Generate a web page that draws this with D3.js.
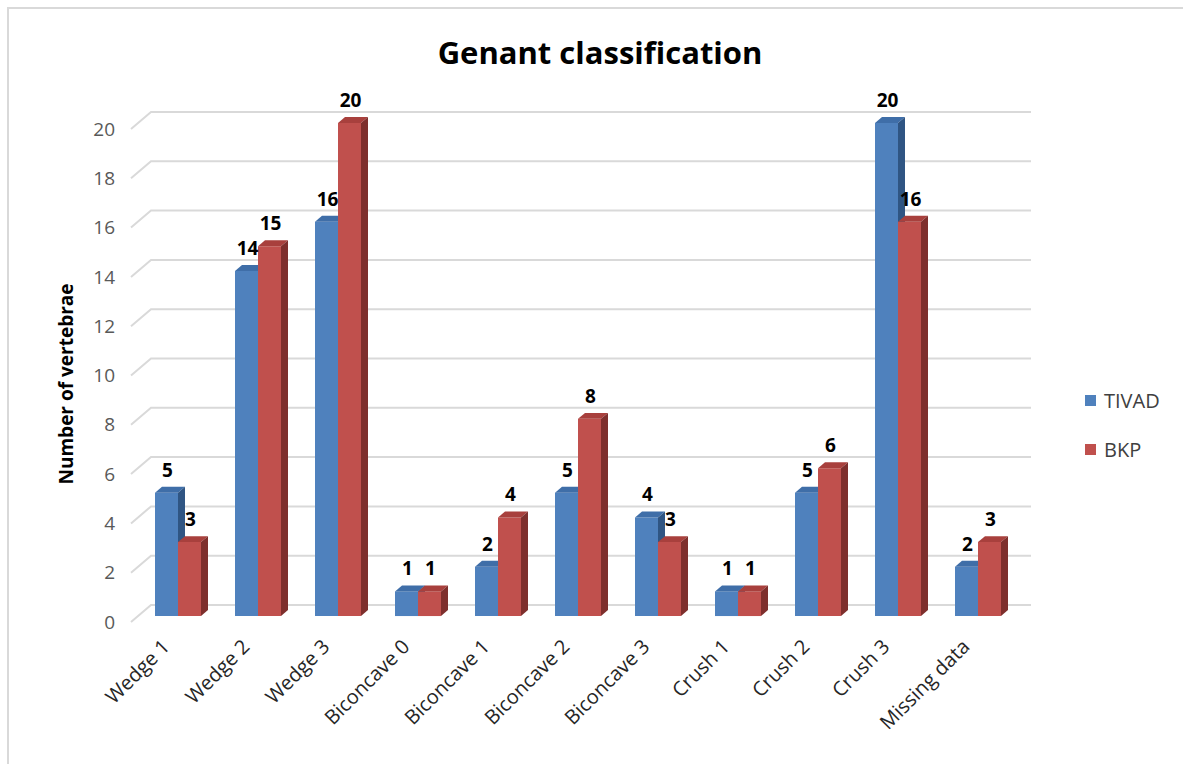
<!DOCTYPE html>
<html>
<head>
<meta charset="utf-8">
<script src="https://cdn.jsdelivr.net/npm/d3@7"></script>
<style>
  body { margin: 0; background: #fff; }
  text { font-family: "Open Sans", sans-serif; }
</style>
</head>
<body>
<script>
// data
var categories = ["Wedge 1", "Wedge 2", "Wedge 3", "Biconcave 0", "Biconcave 1", "Biconcave 2",
                  "Biconcave 3", "Crush 1", "Crush 2", "Crush 3", "Missing data"];
var tivad = [5, 14, 16, 1, 2, 5, 4, 1, 5, 20, 2];
var bkp   = [3, 15, 20, 1, 4, 8, 3, 1, 6, 16, 3];
var seriesNames = ["TIVAD", "BKP"];
var yTicks = [0, 2, 4, 6, 8, 10, 12, 14, 16, 18, 20];

var W = 1183, H = 764;
var svg = d3.select("body").append("svg")
  .attr("width", W).attr("height", H);

// chart border (only top and left are visible)
svg.append("path")
  .attr("d", "M8,764 L8,8 L1183,8")
  .attr("fill", "none")
  .attr("stroke", "#d9d9d9")
  .attr("stroke-width", 2);

// oblique 3d: depth 0 = front plane, depth 1 = back wall
var depthX = 20, depthY = -17;

var x = d3.scaleBand()
  .domain(categories)
  .range([131, 1011]);

var y = d3.scaleLinear()
  .domain([0, 20])
  .range([622, 129]);

function px(xv, d) { return xv + d * depthX; }
function py(v, d) { return y(v) + d * depthY; }

// gridlines: slanted part on the side wall + flat part on the back wall
var grid = svg.append("g");
yTicks.forEach(function(t) {
  grid.append("path")
    .attr("d", "M" + px(131, 0) + "," + py(t, 0) +
               "L" + px(131, 1) + "," + py(t, 1) +
               "L" + px(1011, 1) + "," + py(t, 1))
    .attr("fill", "none")
    .attr("stroke", "#d9d9d9")
    .attr("stroke-width", 2);
});

// y tick labels
svg.append("g").selectAll("text")
  .data(yTicks)
  .enter().append("text")
  .attr("x", 115)
  .attr("y", function(d) { return y(d); })
  .attr("dy", "0.35em")
  .attr("text-anchor", "end")
  .attr("fill", "#595959")
  .style("font-size", "19px")
  .text(function(d) { return d; });

// y axis title
svg.append("text")
  .attr("transform", "translate(73,384) rotate(-90)")
  .attr("text-anchor", "middle")
  .attr("fill", "#000")
  .style("font-size", "19px")
  .style("font-weight", "bold")
  .text("Number of vertebrae");

// bars
var barW = 23;
var d0 = 0.35, d1 = 0.7;
var colors = [
  { front: "#4f81bd", top: "#3f6ea8", side: "#2f5583" },
  { front: "#c0504d", top: "#a8403d", side: "#7e2f2d" }
];

var bars = svg.append("g");
categories.forEach(function(c, i) {
  [tivad[i], bkp[i]].forEach(function(v, s) {
    var x0 = x(c) + x.bandwidth() / 2 - barW + s * barW;
    var x1 = x0 + barW;
    var col = colors[s];
    // front face
    bars.append("path")
      .attr("d", "M" + px(x0, d0) + "," + py(0, d0) +
                 "L" + px(x0, d0) + "," + py(v, d0) +
                 "L" + px(x1, d0) + "," + py(v, d0) +
                 "L" + px(x1, d0) + "," + py(0, d0) + "Z")
      .attr("fill", col.front);
    // top face
    bars.append("path")
      .attr("d", "M" + px(x0, d0) + "," + py(v, d0) +
                 "L" + px(x0, d1) + "," + py(v, d1) +
                 "L" + px(x1, d1) + "," + py(v, d1) +
                 "L" + px(x1, d0) + "," + py(v, d0) + "Z")
      .attr("fill", col.top);
    // right side face
    bars.append("path")
      .attr("d", "M" + px(x1, d0) + "," + py(0, d0) +
                 "L" + px(x1, d0) + "," + py(v, d0) +
                 "L" + px(x1, d1) + "," + py(v, d1) +
                 "L" + px(x1, d1) + "," + py(0, d1) + "Z")
      .attr("fill", col.side);
  });
});

// value labels
var labels = svg.append("g");
categories.forEach(function(c, i) {
  [tivad[i], bkp[i]].forEach(function(v, s) {
    var x0 = x(c) + x.bandwidth() / 2 - barW + s * barW;
    labels.append("text")
      .attr("x", px(x0 + barW / 2, d0) + 1)
      .attr("y", py(v, d0) - 16)
      .attr("text-anchor", "middle")
      .attr("fill", "#000")
      .style("font-size", "19px")
      .style("font-weight", "bold")
      .text(v);
  });
});

// category labels, rotated
svg.append("g").selectAll("text")
  .data(categories)
  .enter().append("text")
  .attr("transform", function(d) {
    return "translate(" + (px(x(d) + x.bandwidth() / 2, d0) - 12) + ",643) rotate(-45)";
  })
  .attr("text-anchor", "end")
  .attr("dy", "0.35em")
  .attr("fill", "#262626")
  .style("font-size", "20px")
  .text(function(d) { return d; });

// title
svg.append("text")
  .attr("x", 600)
  .attr("y", 64)
  .attr("text-anchor", "middle")
  .attr("fill", "#000")
  .style("font-size", "31px")
  .style("font-weight", "bold")
  .text("Genant classification");

// legend
var legend = svg.append("g");
seriesNames.forEach(function(n, s) {
  legend.append("rect")
    .attr("x", 1085)
    .attr("y", 395 + s * 49)
    .attr("width", 11)
    .attr("height", 11)
    .attr("fill", colors[s].front);
  legend.append("text")
    .attr("x", 1104)
    .attr("y", 401 + s * 49)
    .attr("dy", "0.35em")
    .attr("fill", "#404040")
    .style("font-size", "20px")
    .text(n);
});
</script>
</body>
</html>
